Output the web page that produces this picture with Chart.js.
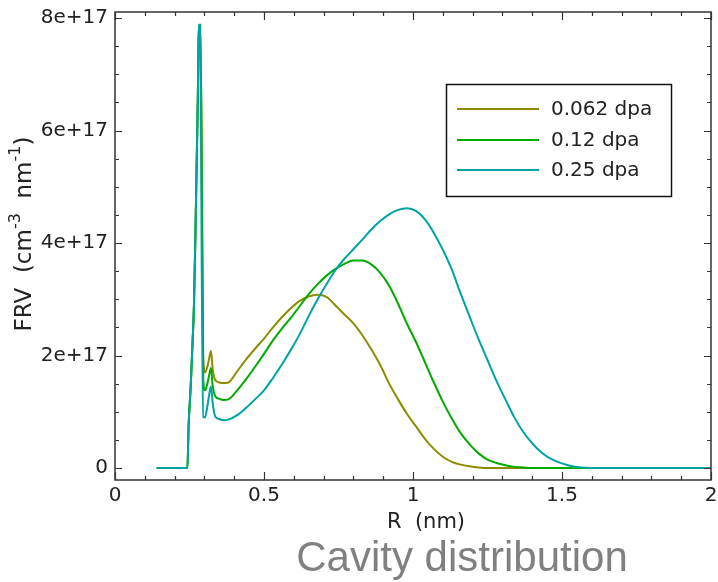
<!DOCTYPE html>
<html>
<head>
<meta charset="utf-8">
<script src="https://cdn.jsdelivr.net/npm/chart.js@4"></script>
<style>
  html, body { margin: 0; padding: 0; background: #ffffff; }
  canvas { display: block; }
</style>
</head>
<body>
<canvas id="c" width="718" height="582"></canvas>
<script>
// ---------- data (values in units of 1e17 cm^-3 nm^-1) ----------
const UNIT = 1e17;
const seriesLabels = ['0.062 dpa', '0.12 dpa', '0.25 dpa'];
const seriesColors = ['#8c8c00', '#00aa00', '#00a3a3'];

const radius = [
  0.14, 0.243, 0.247, 0.254, 0.260, 0.265, 0.270, 0.274, 0.278, 0.281, 0.286,
  0.291, 0.296, 0.302, 0.310, 0.316, 0.322, 0.328, 0.336, 0.350, 0.365,
  0.38, 0.41, 0.44, 0.47, 0.50, 0.53, 0.56, 0.59, 0.62, 0.65, 0.68, 0.71,
  0.74, 0.77, 0.80, 0.83, 0.86, 0.89, 0.92, 0.95, 0.98, 1.01, 1.04, 1.07,
  1.10, 1.13, 1.16, 1.19, 1.22, 1.25, 1.28, 1.31, 1.34, 1.37, 1.40, 1.43,
  1.46, 1.49, 1.52, 1.55, 1.58, 1.61, 1.70, 1.80, 1.90, 2.00
];

const frv062 = [
  0, 0, 0.75, 1.45, 2.2, 2.9, 4.2, 5.4, 6.6, 7.86, 7.86,
  5.7, 2.0, 1.70, 1.80, 1.95, 2.08, 1.75, 1.57, 1.52, 1.51,
  1.52, 1.72, 1.93, 2.12, 2.30, 2.50, 2.68, 2.84, 2.97, 3.05, 3.08, 3.04,
  2.89, 2.73, 2.57, 2.36, 2.11, 1.83, 1.50, 1.22, 0.96, 0.74, 0.52, 0.34,
  0.20, 0.11, 0.06, 0.03, 0.01, 0, 0, 0, 0, 0, 0, 0,
  0, 0, 0, 0, 0, 0, 0, 0, 0, 0
];

const frv012 = [
  0, 0, 0.75, 1.45, 2.2, 2.9, 4.2, 5.4, 6.6, 7.87, 7.87,
  5.5, 1.6, 1.38, 1.50, 1.65, 1.78, 1.45, 1.28, 1.23, 1.21,
  1.22, 1.38, 1.58, 1.80, 2.03, 2.27, 2.48, 2.67, 2.88, 3.09, 3.27, 3.42,
  3.54, 3.63, 3.69, 3.69, 3.62, 3.47, 3.24, 2.92, 2.56, 2.24, 1.88, 1.52,
  1.18, 0.88, 0.62, 0.42, 0.26, 0.15, 0.09, 0.05, 0.02, 0.01, 0, 0,
  0, 0, 0, 0, 0, 0, 0, 0, 0, 0
];

const frv025 = [
  0, 0, 0.75, 1.45, 2.2, 2.9, 4.2, 5.4, 6.6, 7.88, 7.88,
  3.6, 0.91, 0.90, 1.10, 1.30, 1.45, 1.15, 0.92, 0.87, 0.85,
  0.86, 0.94, 1.07, 1.22, 1.38, 1.60, 1.84, 2.10, 2.38, 2.70, 3.00, 3.27,
  3.52, 3.72, 3.89, 4.06, 4.24, 4.39, 4.51, 4.59, 4.62, 4.57, 4.42, 4.18,
  3.88, 3.53, 3.10, 2.69, 2.29, 1.92, 1.55, 1.22, 0.90, 0.64, 0.44, 0.28,
  0.17, 0.10, 0.05, 0.02, 0.005, 0, 0, 0, 0, 0
];

const xTickValues = [0, 0.5, 1, 1.5, 2];
const xTickLabels = ['0', '0.5', '1', '1.5', '2'];
const yTickValues = [0, 2, 4, 6, 8];
const yTickLabels = ['0', '2e+17', '4e+17', '6e+17', '8e+17'];
const xMinorStep = 0.1;
const yMinorStep = 0.5;

const xTitle = 'R  (nm)';
const yTitleParts = [['FRV  (cm', false], ['-3', true], ['  nm', false], ['-1', true], [')', false]];
const caption = 'Cavity distribution';

// ---------- chart ----------
const toPoints = vals => vals.map((v, i) => ({ x: radius[i], y: v * UNIT }));
const allSeries = [frv062, frv012, frv025];

const FONT = 'DejaVu Sans';
const AXIS_COLOR = '#333333';
const TEXT_COLOR = '#222222';

const decor = {
  id: 'decor',
  afterDraw(chart) {
    const ctx = chart.ctx;
    const a = chart.chartArea;
    const xs = chart.scales.x, ys = chart.scales.y;
    ctx.save();
    ctx.strokeStyle = AXIS_COLOR;
    ctx.lineWidth = 1.5;
    ctx.strokeRect(a.left, a.top, a.right - a.left, a.bottom - a.top);
    ctx.lineWidth = 1.2;
    ctx.beginPath();
    for (let v = 0; v <= 2.0001; v += xMinorStep) {
      const p = Math.round(xs.getPixelForValue(v)) + 0.5;
      const major = xTickValues.some(t => Math.abs(t - v) < 1e-6);
      const len = major ? 8 : 4;
      ctx.moveTo(p, a.bottom); ctx.lineTo(p, a.bottom - len);
      ctx.moveTo(p, a.top); ctx.lineTo(p, a.top + len);
    }
    for (let v = 0; v <= 8.0001; v += yMinorStep) {
      const p = Math.round(ys.getPixelForValue(v * UNIT)) + 0.5;
      const major = yTickValues.some(t => Math.abs(t - v) < 1e-6);
      const len = major ? 7 : 4;
      ctx.moveTo(a.left, p); ctx.lineTo(a.left + len, p);
      ctx.moveTo(a.right, p); ctx.lineTo(a.right - len, p);
    }
    ctx.stroke();

    // legend
    ctx.strokeStyle = '#111111';
    ctx.lineWidth = 1.5;
    ctx.strokeRect(446.5, 84.5, 225, 112);
    ctx.font = '20px "' + FONT + '"';
    ctx.textBaseline = 'middle';
    ctx.textAlign = 'left';
    const ly = [109, 140, 170];
    chart.data.datasets.forEach((ds, i) => {
      ctx.strokeStyle = ds.borderColor;
      ctx.lineWidth = 2;
      ctx.beginPath();
      ctx.moveTo(457, ly[i]); ctx.lineTo(539, ly[i]);
      ctx.stroke();
      ctx.fillStyle = TEXT_COLOR;
      ctx.fillText(ds.label, 551, ly[i] + 1);
    });

    // x title
    ctx.fillStyle = TEXT_COLOR;
    ctx.textAlign = 'center';
    ctx.font = '21px "' + FONT + '"';
    ctx.fillText(xTitle, 426, 523);

    // y title (rotated, with superscripts)
    ctx.save();
    ctx.translate(31, 0);
    ctx.rotate(-Math.PI / 2);
    const fontMain = '23px "' + FONT + '"';
    const fontSup = '16px "' + FONT + '"';
    let total = 0;
    yTitleParts.forEach(([t, sup]) => { ctx.font = sup ? fontSup : fontMain; total += ctx.measureText(t).width; });
    let cx = -234 - total / 2;
    ctx.textAlign = 'left';
    ctx.textBaseline = 'alphabetic';
    yTitleParts.forEach(([t, sup]) => {
      ctx.font = sup ? fontSup : fontMain;
      ctx.fillText(t, cx, sup ? -11 : 0);
      cx += ctx.measureText(t).width;
    });
    ctx.restore();

    // caption
    ctx.fillStyle = '#808080';
    ctx.font = '42px "Liberation Sans"';
    ctx.textAlign = 'center';
    ctx.textBaseline = 'alphabetic';
    ctx.fillText(caption, 462, 571);
    ctx.restore();
  }
};

new Chart(document.getElementById('c'), {
  type: 'line',
  data: {
    datasets: allSeries.map((vals, i) => ({
      label: seriesLabels[i],
      data: toPoints(vals),
      borderColor: seriesColors[i],
      backgroundColor: seriesColors[i],
      borderWidth: 2,
      pointRadius: 0,
      cubicInterpolationMode: 'monotone',
      fill: false,
      order: 3 - i
    }))
  },
  options: {
    responsive: false,
    animation: false,
    devicePixelRatio: 1,
    layout: { padding: { left: 0, top: 12, right: 7, bottom: 0 } },
    plugins: { legend: { display: false }, tooltip: { enabled: false } },
    scales: {
      x: {
        type: 'linear',
        min: 0, max: 2,
        grid: { display: false, drawTicks: false },
        border: { display: false },
        afterBuildTicks: s => { s.ticks = xTickValues.map(v => ({ value: v })); },
        afterFit: s => { s.height = 102; s.paddingLeft = 0; s.paddingRight = 0; },
        ticks: {
          autoSkip: false, maxRotation: 0, padding: 4,
          color: TEXT_COLOR,
          font: { family: FONT, size: 20 },
          callback: (v) => xTickLabels[xTickValues.indexOf(v)]
        }
      },
      y: {
        type: 'linear',
        min: -0.2133 * UNIT, max: 8.107 * UNIT,
        grid: { display: false, drawTicks: false },
        border: { display: false },
        afterBuildTicks: s => { s.ticks = yTickValues.map(v => ({ value: v * UNIT })); },
        afterFit: s => { s.width = 115; s.paddingTop = 0; s.paddingBottom = 0; },
        ticks: {
          autoSkip: false, padding: 7,
          color: TEXT_COLOR,
          font: { family: FONT, size: 20 },
          callback: (v) => yTickLabels[yTickValues.indexOf(Math.round(v / UNIT))]
        }
      }
    }
  },
  plugins: [decor]
});
</script>
</body>
</html>
